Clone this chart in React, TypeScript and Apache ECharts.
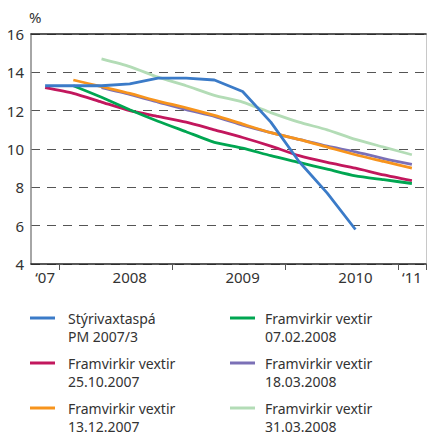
import React, { useEffect, useRef } from "react";
import * as echarts from "echarts";

const categories = [
  "2007Q4", "2008Q1", "2008Q2", "2008Q3", "2008Q4", "2009Q1", "2009Q2",
  "2009Q3", "2009Q4", "2010Q1", "2010Q2", "2010Q3", "2010Q4", "2011Q1",
];
const xTickLabels = ["\u201807", "", "", "2008", "", "", "", "2009", "", "", "", "2010", "", "\u201811"];
const yearStartIdx = [1, 5, 9, 13];

const seriesNames = [
  "Stýrivaxtaspá\nPM 2007/3",
  "Framvirkir vextir\n25.10.2007",
  "Framvirkir vextir\n13.12.2007",
  "Framvirkir vextir\n07.02.2008",
  "Framvirkir vextir\n18.03.2008",
  "Framvirkir vextir\n31.03.2008",
];
const seriesColors = ["#3b7bc8", "#c2175d", "#f7941d", "#00a651", "#7b70b6", "#b3dcb6"];

const policyRate = [13.3, 13.3, 13.3, 13.4, 13.7, 13.7, 13.6, 13.0, 11.4, 9.35, 7.7, 5.8, null, null];
const fwd20071025 = [13.2, 12.9, 12.45, 12.0, 11.7, 11.4, 11.0, 10.6, 10.15, 9.65, 9.3, 9.0, 8.65, 8.35];
const fwd20071213 = [null, 13.6, 13.25, 12.9, 12.5, 12.15, 11.75, 11.3, 10.85, 10.5, 10.1, 9.7, 9.35, 9.0];
const fwd20080207 = [null, 13.3, 12.7, 12.05, 11.45, 10.9, 10.35, 10.05, 9.65, 9.3, 8.95, 8.6, 8.4, 8.2];
const fwd20080318 = [null, null, 13.2, 12.85, 12.45, 12.05, 11.7, 11.25, 10.85, 10.5, 10.15, 9.85, 9.5, 9.2];
const fwd20080331 = [null, null, 14.7, 14.3, 13.75, 13.3, 12.8, 12.45, 11.9, 11.4, 11.0, 10.5, 10.1, 9.7];

const allData = [policyRate, fwd20071025, fwd20071213, fwd20080207, fwd20080318, fwd20080331];
const drawOrder = [5, 4, 2, 1, 3, 0];

const FONT = "'Noto Sans', sans-serif";

export default function App() {
  const ref = useRef<HTMLDivElement>(null);
  useEffect(() => {
    document.body.style.margin = "0";
    if (!ref.current) return;
    const chart = echarts.init(ref.current, null, { renderer: "svg" });

    const legendCols = [
      { iconX: 30, textX: 68 },
      { iconX: 230, textX: 265 },
    ];
    const rowY = [318, 363, 408];
    const legendGraphics: any[] = [];
    seriesNames.forEach((name, i) => {
      const col = legendCols[Math.floor(i / 3)];
      const y = rowY[i % 3];
      legendGraphics.push({
        type: "line",
        shape: { x1: col.iconX, y1: y, x2: col.iconX + 25, y2: y },
        style: { stroke: seriesColors[i], lineWidth: 3 },
      });
      legendGraphics.push({
        type: "text",
        x: col.textX,
        y: y - 9,
        style: {
          text: name,
          font: `14px ${FONT}`,
          fill: "#333",
          lineHeight: 18,
          verticalAlign: "top",
          align: "left",
        },
      });
    });

    chart.setOption({
      animation: false,
      textStyle: { fontFamily: FONT },
      grid: { left: 31, right: 1, top: 34, bottom: 172, containLabel: false },
      xAxis: [
        {
          type: "category",
          data: categories,
          boundaryGap: true,
          axisLine: { show: true, lineStyle: { color: "#222", width: 1.5 } },
          axisTick: {
            show: true,
            length: 6,
            lineStyle: { color: "#555", width: 1 },
            interval: (idx: number) => yearStartIdx.includes(idx),
          },
          axisLabel: {
            interval: (idx: number) => xTickLabels[idx] !== "",
            formatter: (_v: string, idx: number) => xTickLabels[idx],
            color: "#333",
            fontSize: 15,
            margin: 5,
            fontFamily: FONT,
          },
          splitLine: { show: false },
        },
        {
          type: "category",
          data: categories,
          position: "top",
          axisLine: { show: true, lineStyle: { color: "#222", width: 1.5 } },
          axisTick: { show: false },
          axisLabel: { show: false },
        },
      ],
      yAxis: [
        {
          type: "value",
          min: 4,
          max: 16,
          interval: 2,
          name: "%",
          nameLocation: "end",
          nameGap: 10,
          nameTextStyle: { color: "#333", fontSize: 15, align: "left", padding: [0, 0, 0, -2], fontFamily: FONT },
          axisLine: { show: true, lineStyle: { color: "#888", width: 1.5 } },
          axisTick: { show: false },
          axisLabel: { color: "#333", fontSize: 15, margin: 7, fontFamily: FONT },
          splitLine: { show: true, lineStyle: { color: "#555", type: [9, 7], width: 1.2 } },
        },
        {
          type: "value",
          min: 4,
          max: 16,
          interval: 2,
          position: "right",
          axisLine: { show: true, lineStyle: { color: "#c8c8c8", width: 1 } },
          axisTick: { show: false },
          axisLabel: { show: false },
          splitLine: { show: false },
        },
      ],
      series: drawOrder.map((i) => ({
        type: "line",
        name: seriesNames[i],
        data: allData[i],
        showSymbol: false,
        symbol: "none",
        smooth: i === 0 ? false : 0.2,
        connectNulls: false,
        lineStyle: { color: seriesColors[i], width: 2.8 },
        itemStyle: { color: seriesColors[i] },
      })),
      graphic: legendGraphics,
    });
    return () => chart.dispose();
  }, []);
  return <div ref={ref} style={{ width: 427, height: 436 }} />;
}
